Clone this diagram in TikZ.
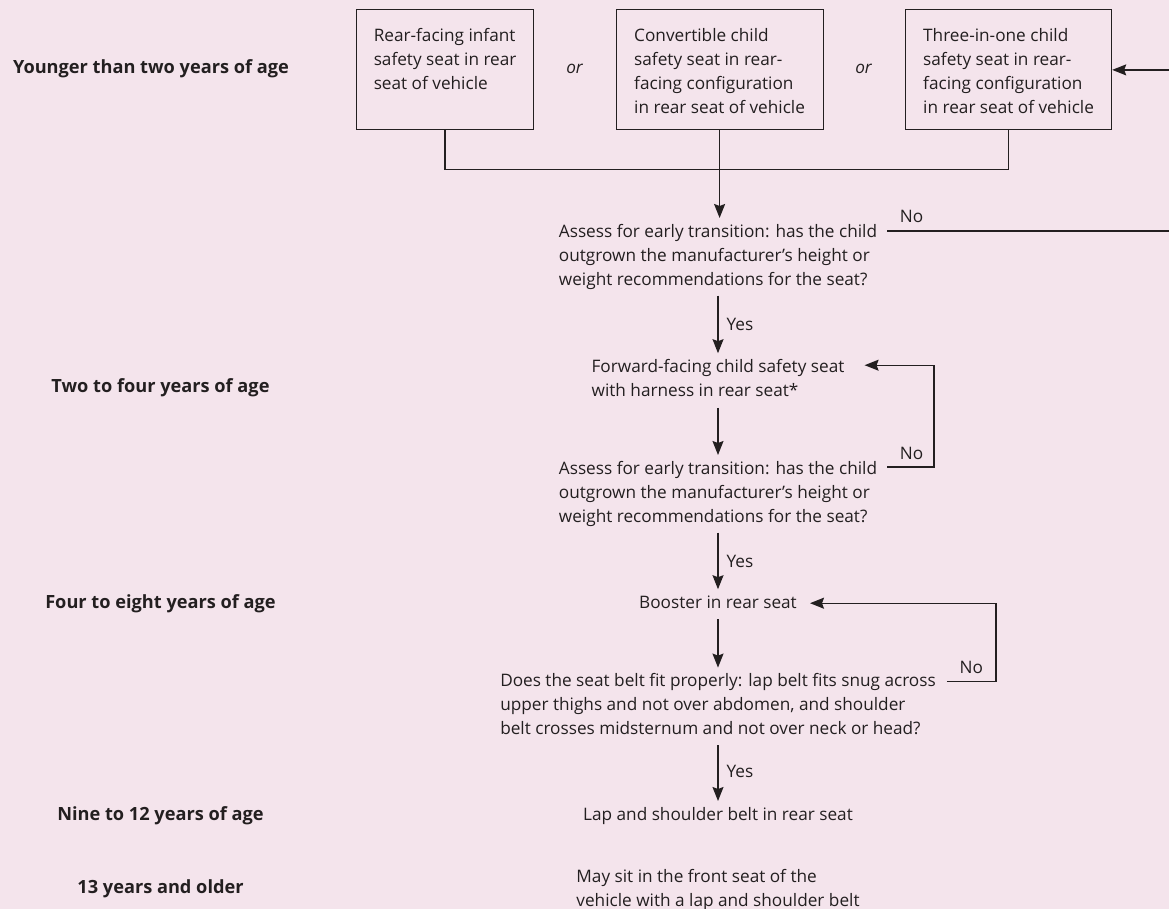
\documentclass[tikz,border=0pt]{standalone}
\usepackage{fontspec}
\setmainfont{Open Sans}
\usetikzlibrary{arrows.meta,calc}
\definecolor{pagebg}{HTML}{F4E4EC}
\definecolor{ink}{HTML}{231F20}
\newcommand{\flowfont}{\fontsize{17.2pt}{24pt}\selectfont}
\newcommand{\agefont}{\fontsize{18.2pt}{24pt}\selectfont\bfseries}
\tikzset{
  agelabel/.style={anchor=base, inner sep=0pt, font=\agefont},
  seatbox/.style={draw, line width=1.2pt, anchor=north west, align=left, inner xsep=0pt, inner ysep=0pt, text height=103.4pt, text depth=16.6pt, font=\flowfont},
  threelines/.style={text height=79.4pt, text depth=40.6pt},
  flowtext/.style={anchor=north, align=left, inner xsep=0pt, inner ysep=6pt, font=\flowfont},
  ortext/.style={anchor=base, inner sep=0pt, font=\flowfont\itshape},
  answer/.style={inner sep=0pt, font=\flowfont},
  nolabel/.style={answer, anchor=base west, xshift=12pt, yshift=8pt},
  yeslabel/.style={answer, midway, right=8pt},
  link/.style={line width=1.4pt},
  flowarrow/.style={link, -{Stealth[length=14pt,width=11pt,inset=2pt]}}
}
\begin{document}
\begin{tikzpicture}[x=1pt,y=-1pt,color=ink,text=ink]
        \path[use as bounding box, fill=pagebg] (0,0) rectangle (1169,909);

        % Text Node
        \node[agelabel] (under2) at (151,74) {Younger than two years of age};
        % Text Node
        \node[agelabel] (two4) at (160.5,392.3) {Two to four years of age};
        % Text Node
        \node[agelabel] (four8) at (160.5,608.3) {Four to eight years of age};
        % Text Node
        \node[agelabel] (nine12) at (160.5,820) {Nine to 12 years of age};
        % Text Node
        \node[agelabel] (over13) at (160.5,893.3) {13 years and older};

        %Rect
        \node[seatbox, threelines, minimum width=177pt] (infant) at (356,9.3) {Rear-facing infant\\safety seat in rear\\seat of vehicle};
        %Rect
        \node[seatbox, minimum width=207pt] (convertible) at (615.5,9.3) {Convertible child\\safety seat in rear-\\facing configuration\\in rear seat of vehicle};
        %Rect
        \node[seatbox, minimum width=206pt] (threeinone) at (905,9.3) {Three-in-one child\\safety seat in rear-\\facing configuration\\in rear seat of vehicle};
        % Text Node
        \node[ortext] (or1) at (574.5,74) {or};
        % Text Node
        \node[ortext] (or2) at (863.5,74) {or};

        % Text Node
        \node[flowtext] (assess1) at (718,218) {Assess for early transition: has the child\\outgrown the manufacturer’s height or\\weight recommendations for the seat?};
        % Text Node
        \node[flowtext] (harness) at (718,353.2) {Forward-facing child safety seat\\with harness in rear seat*};
        % Text Node
        \node[flowtext] (assess2) at (718,455) {Assess for early transition: has the child\\outgrown the manufacturer’s height or\\weight recommendations for the seat?};
        % Text Node
        \node[flowtext] (booster) at (718,589.2) {Booster in rear seat};
        % Text Node
        \node[flowtext] (beltfit) at (718,667.6) {Does the seat belt fit properly: lap belt fits snug across\\upper thighs and not over abdomen, and shoulder\\belt crosses midsternum and not over neck or head?};
        % Text Node
        \node[flowtext] (lapbelt) at (718,801) {Lap and shoulder belt in rear seat};
        % Text Node
        \node[flowtext] (frontseat) at (718,863.6) {May sit in the front seat of the\\vehicle with a lap and shoulder belt};

        \coordinate (join) at (718,169.3);
        \coordinate (rimA) at (1190,150);
        \coordinate (rimB) at (934,420);
        \coordinate (rimC) at (996,640);

        %Straight Lines
        \draw[link] (infant.south) |- (join) -| (threeinone.south);
        \draw[flowarrow] (convertible.south) -- (convertible.south |- assess1.north);
        %Straight Lines
        \draw[flowarrow] (assess1.south) -- node[yeslabel] {Yes} (harness.north);
        \draw[flowarrow, shorten <=5pt] (harness.south) -- (assess2.north);
        \draw[flowarrow] (assess2.south) -- node[yeslabel] {Yes} (booster.north);
        \draw[flowarrow, shorten <=5pt] (booster.south) -- (beltfit.north);
        \draw[flowarrow, shorten <=4pt] (beltfit.south) -- node[yeslabel] {Yes} (lapbelt.north);
        %Straight Lines
        \draw[flowarrow] ($(assess1.north east)+(10,13)$) node[nolabel] {No} -| (rimA) |- (threeinone.east);
        \draw[flowarrow] ($(assess2.north east)+(10,12)$) node[nolabel] {No} -| (rimB) |- ($(harness.north east)+(20,12)$);
        \draw[flowarrow] ($(beltfit.north east)+(11,14)$) node[nolabel] {No} -| (rimC) |- ($(booster.north east)+(13,14)$);
    \end{tikzpicture}
\end{document}
